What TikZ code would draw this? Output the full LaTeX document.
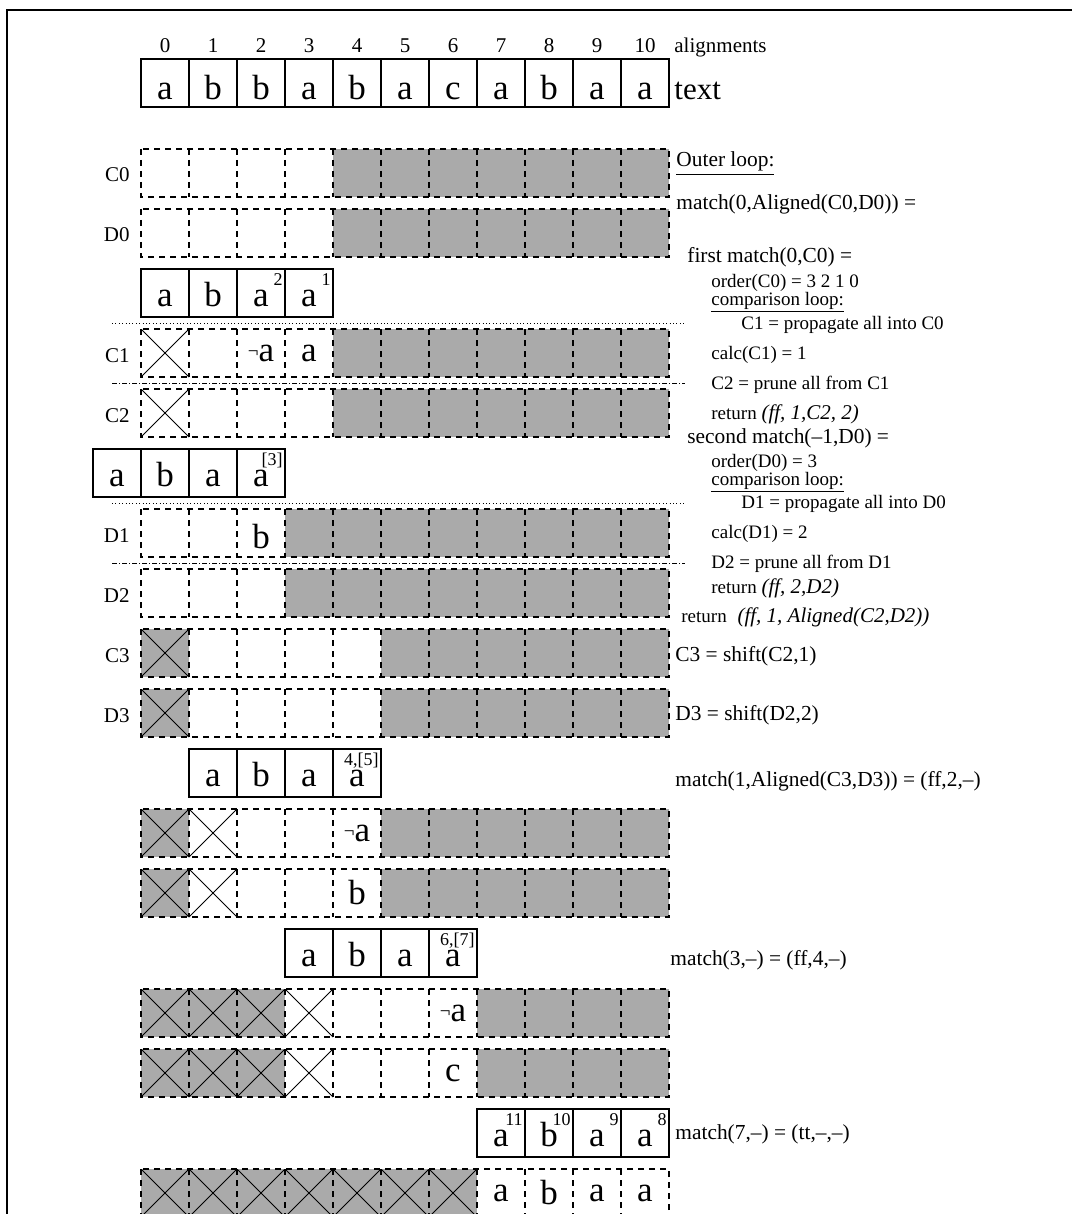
\documentclass[tikz,border=0pt]{standalone}
\usepackage{fontspec}
\setmainfont{Liberation Serif}
\definecolor{cellgray}{RGB}{170,170,170}
\newcommand{\lettersize}{\fontsize{17.5}{20}\selectfont}
\newcommand{\retfont}{\fontsize{10.5}{12}\selectfont\itshape}
\newcommand{\negsign}{{\fontsize{9.5}{10}\selectfont\raisebox{2pt}{¬}}}
\newcommand{\seqrow}[3]{%
  \foreach \kind [count=\i from 0] in {#3}
    \node[cell,\kind] (#1-\i) at (165+48*\i,#2) {};
  \draw[griddash] (#1-0.north west) rectangle (#1-10.south east);
  \foreach \i in {1,...,10}
    \draw[griddash] (#1-\i.north west) -- (#1-\i.south west);
}
\newcommand{\patrow}[5][]{%
  \foreach \ch/\up [count=\i from #4] in {#5} {
    \node[solidcell,#1] (#2-\i) at (165+48*\i,#3) {\ch};
    \node[supscript] (#2-\i-up) at (#2-\i.north east) {\up};
  }
}

\begin{document}
\begin{tikzpicture}[x=0.5pt,y=-0.5pt,
  every node/.style={inner sep=0pt},
  cell/.style={minimum width=24pt,minimum height=24pt,outer sep=0pt},
  emptycell/.style={},
  graycell/.style={fill=cellgray},
  crosscell/.style={path picture={\draw[line width=0.45pt]
      (path picture bounding box.north west) -- (path picture bounding box.south east)
      (path picture bounding box.south west) -- (path picture bounding box.north east);}},
  graycross/.style={graycell,crosscell},
  griddash/.style={line width=0.6pt,dash pattern=on 3pt off 2.5pt},
  solidcell/.style={cell,draw,line width=0.6pt,font=\lettersize,text height=13pt,text depth=0pt},
  letter/.style={font=\lettersize},
  supscript/.style={anchor=north east,xshift=-1pt,yshift=-2pt,font=\fontsize{9}{10}\selectfont},
  rowlabel/.style={anchor=base east,font=\fontsize{10.5}{12}\selectfont},
  note/.style={anchor=base west,font=\fontsize{10.7}{12}\selectfont},
  smallnote/.style={anchor=base west,font=\fontsize{9.5}{11}\selectfont},
  dotline/.style={line width=0.5pt,dash pattern=on 0.5pt off 1.2pt},
  dashdotline/.style={line width=0.5pt,dash pattern=on 2.5pt off 1pt on 0.5pt off 1pt}
]
\clip (0,0) rectangle (1072,1214);
\draw[line width=1.4pt] (1072,10) -- (7,10) -- (7,1214);

% text and alignments
\foreach \i in {0,...,10}
  \node[anchor=base,font=\fontsize{10.5}{12}\selectfont] (num-\i) at (165+48*\i,53) {\i};
\node[note,font=\fontsize{10.5}{12}\selectfont] (alignments) at (674,53) {alignments};
\patrow[text height=17pt]{T}{83}{0}{a/,b/,b/,a/,b/,a/,c/,a/,b/,a/,a/}
\node[note,font=\fontsize{15.5}{18}\selectfont] (textlabel) at (674,100) {text};

% first match
\seqrow{C0}{173}{emptycell,emptycell,emptycell,emptycell,graycell,graycell,graycell,graycell,graycell,graycell,graycell}
\node[rowlabel] (lC0) at (130,182) {C0};
\seqrow{D0}{233}{emptycell,emptycell,emptycell,emptycell,graycell,graycell,graycell,graycell,graycell,graycell,graycell}
\node[rowlabel] (lD0) at (130,242) {D0};
\patrow{P0}{293}{0}{a/,b/,a/2,a/1}
\draw[dotline] (112,323) -- (685,323);
\seqrow{C1}{353}{crosscell,emptycell,emptycell,emptycell,graycell,graycell,graycell,graycell,graycell,graycell,graycell}
\node[letter] (C1-2-t) at (C1-2) {\negsign a};
\node[letter] (C1-3-t) at (C1-3) {a};
\node[rowlabel] (lC1) at (130,362) {C1};
\draw[dashdotline] (112,383) -- (685,383);
\seqrow{C2}{413}{crosscell,emptycell,emptycell,emptycell,graycell,graycell,graycell,graycell,graycell,graycell,graycell}
\node[rowlabel] (lC2) at (130,422) {C2};

% second match
\patrow{P1}{473}{-1}{a/,b/,a/,a/[3]}
\draw[dotline] (112,503) -- (685,503);
\seqrow{D1}{533}{emptycell,emptycell,emptycell,graycell,graycell,graycell,graycell,graycell,graycell,graycell,graycell}
\node[letter,yshift=-2pt] (D1-2-t) at (D1-2) {b};
\node[rowlabel] (lD1) at (130,542) {D1};
\draw[dashdotline] (112,563) -- (685,563);
\seqrow{D2}{593}{emptycell,emptycell,emptycell,graycell,graycell,graycell,graycell,graycell,graycell,graycell,graycell}
\node[rowlabel] (lD2) at (130,602) {D2};

% shifted
\seqrow{C3}{653}{graycross,emptycell,emptycell,emptycell,emptycell,graycell,graycell,graycell,graycell,graycell,graycell}
\node[rowlabel] (lC3) at (130,662) {C3};
\seqrow{D3}{713}{graycross,emptycell,emptycell,emptycell,emptycell,graycell,graycell,graycell,graycell,graycell,graycell}
\node[rowlabel] (lD3) at (130,722) {D3};
\patrow{P2}{773}{1}{a/,b/,a/,a/{4,[5]}}
\seqrow{C4}{833}{graycross,crosscell,emptycell,emptycell,emptycell,graycell,graycell,graycell,graycell,graycell,graycell}
\node[letter] (C4-4-t) at (C4-4) {\negsign a};
\seqrow{D4}{893}{graycross,crosscell,emptycell,emptycell,emptycell,graycell,graycell,graycell,graycell,graycell,graycell}
\node[letter] (D4-4-t) at (D4-4) {b};
\patrow{P3}{953}{3}{a/,b/,a/,a/{6,[7]}}
\seqrow{C5}{1013}{graycross,graycross,graycross,crosscell,emptycell,emptycell,emptycell,graycell,graycell,graycell,graycell}
\node[letter] (C5-6-t) at (C5-6) {\negsign a};
\seqrow{D5}{1073}{graycross,graycross,graycross,crosscell,emptycell,emptycell,emptycell,graycell,graycell,graycell,graycell}
\node[letter] (D5-6-t) at (D5-6) {c};
\patrow{P4}{1133}{7}{a/11,b/10,a/9,a/8}
\seqrow{C6}{1193}{graycross,graycross,graycross,graycross,graycross,graycross,graycross,emptycell,emptycell,emptycell,emptycell}
\foreach \ch [count=\i from 7] in {a,b,a,a}
  \node[letter] (C6-\i-t) at (C6-\i) {\ch};

% outer loop notes
\node[note] (outer) at (676,167) {\underline{Outer loop:}};
\node[note] (m0) at (676,210) {match(0,Aligned(C0,D0)) =};
\node[note] (first) at (687,263) {first match(0,C0) =};
\node[smallnote] (ordC) at (711,287) {order(C0) = 3 2 1 0};
\node[smallnote] (cmpC) at (711,305) {\underline{comparison loop:}};
\node[smallnote] (propC) at (741,329) {C1 = propagate all into C0};
\node[smallnote] (calcC) at (711,359) {calc(C1) = 1};
\node[smallnote] (pruneC) at (711,389) {C2 = prune all from C1};
\node[smallnote] (retC) at (711,419) {return {\retfont (ff, 1,C2, 2)}};
\node[note] (second) at (687,443) {second match(--1,D0) =};
\node[smallnote] (ordD) at (711,467) {order(D0) = 3};
\node[smallnote] (cmpD) at (711,485) {\underline{comparison loop:}};
\node[smallnote] (propD) at (741,508) {D1 = propagate all into D0};
\node[smallnote] (calcD) at (711,538) {calc(D1) = 2};
\node[smallnote] (pruneD) at (711,568) {D2 = prune all from D1};
\node[smallnote] (retD) at (711,593) {return {\retfont (ff, 2,D2)}};
\node[smallnote] (retM) at (681,622) {return\hspace{3pt} {\retfont (ff, 1, Aligned(C2,D2))}};
\node[note] (shC) at (675,661) {C3 = shift(C2,1)};
\node[note] (shD) at (675,720) {D3 = shift(D2,2)};
\node[note] (m1) at (675,786) {match(1,Aligned(C3,D3)) = (ff,2,--)};
\node[note] (m3) at (670,965) {match(3,--) = (ff,4,--)};
\node[note] (m7) at (675,1139) {match(7,--) = (tt,--,--)};
\end{tikzpicture}
\end{document}
